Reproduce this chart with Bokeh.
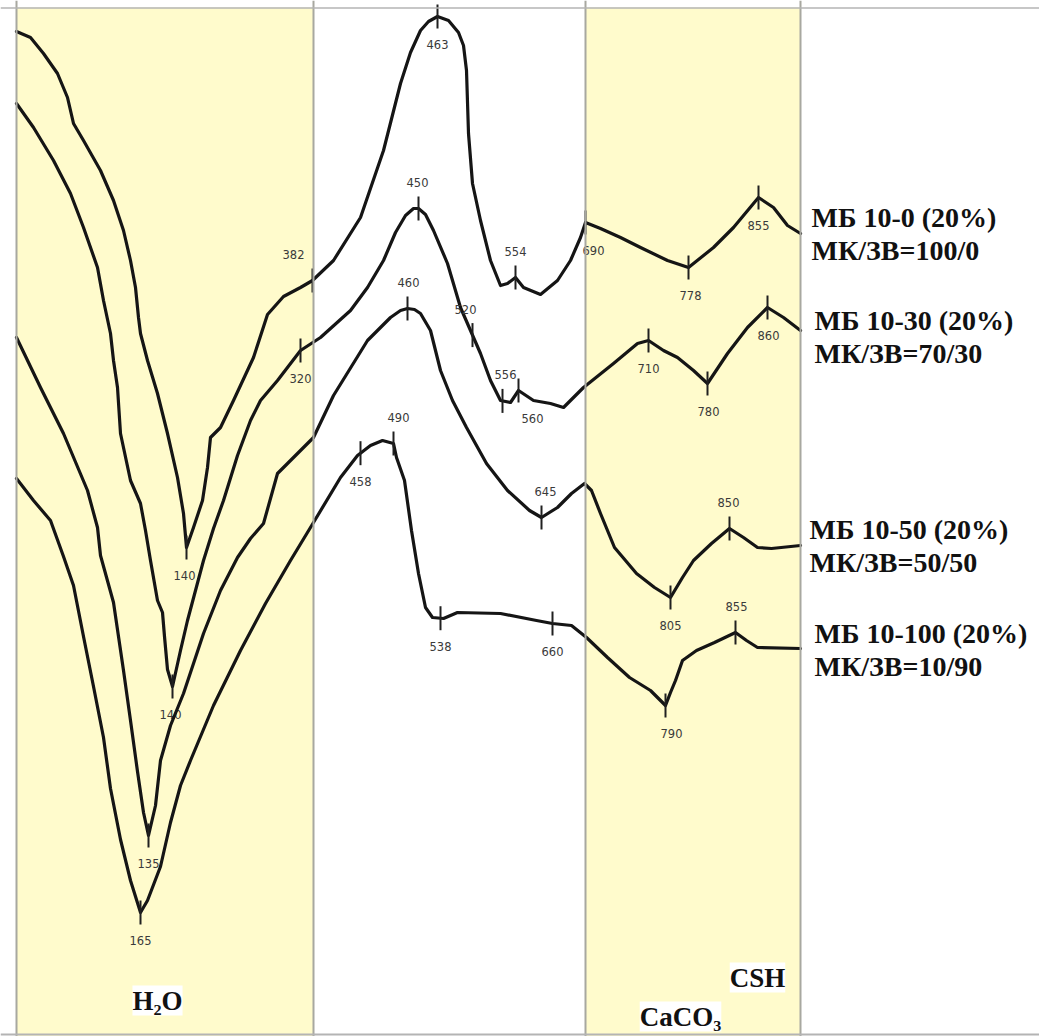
import numpy as np
from bokeh.plotting import figure
from bokeh.models import Range1d, Span, Label, ColumnDataSource
from bokeh.core.properties import value
from bokeh.embed import file_html
from bokeh.resources import INLINE

# ---- data (chart units, y grows downward) ----
band_left = [16, 585]
band_right = [313, 800]

c1_x = [16, 30, 43, 57, 67, 73, 83, 100, 113, 123, 130, 135, 138, 140, 147, 157, 167,
        177, 183, 186, 193, 202, 207, 210, 220, 233, 253, 267, 283, 300, 312, 333, 360,
        383, 400, 410, 420, 428, 437, 448, 458, 463, 466, 468, 472, 480, 490, 500, 507,
        515, 523, 540, 557, 570, 580, 585, 600, 620, 640, 667, 688, 713, 733, 758, 773,
        787, 800]
c1_y = [31, 37, 53, 73, 97, 123, 140, 170, 200, 230, 260, 287, 317, 333, 360, 393, 433,
        477, 513, 547, 527, 500, 467, 437, 427, 400, 357, 314, 296, 287, 280, 260, 217,
        150, 83, 52, 30, 21, 16, 20, 32, 45, 70, 133, 183, 220, 260, 285, 283,
        277, 287, 294, 280, 260, 237, 222, 228, 237, 247, 260, 267, 247, 227, 197, 207,
        225, 233]

c2_x = [16, 33, 53, 70, 83, 97, 103, 110, 113, 117, 120, 130, 140, 145, 150, 157, 162,
        164, 167, 172, 180, 187, 195, 203, 213, 223, 237, 250, 260, 277, 300, 320, 350,
        367, 383, 395, 405, 413, 418, 425, 433, 447, 460, 470, 480, 490, 500, 510, 518,
        533, 550, 563, 583, 613, 637, 648, 663, 677, 693, 707, 727, 747, 767, 783, 800]
c2_y = [103, 127, 160, 193, 227, 267, 300, 333, 360, 387, 433, 480, 503, 530, 560, 600, 612,
        636, 669, 686, 650, 620, 590, 560, 528, 500, 455, 420, 400, 380, 350, 337, 310,
        287, 260, 232, 215, 208, 208, 214, 230, 263, 307, 330, 353, 380, 400, 402, 390,
        400, 403, 407, 387, 363, 343, 340, 350, 357, 370, 383, 353, 327, 307, 317, 330]

c3_x = [16, 40, 63, 87, 97, 100, 113, 123, 130, 137, 143, 148, 155, 160, 170, 183, 203,
        220, 237, 250, 263, 277, 290, 313, 333, 367, 390, 400, 407, 414, 420, 430, 440,
        452, 466, 486, 507, 529, 541, 557, 571, 584, 591, 600, 614, 636, 654, 670, 682,
        693, 711, 729, 743, 757, 771, 800]
c3_y = [337, 387, 433, 490, 527, 555, 602, 670, 720, 771, 812, 835, 805, 760, 725, 693, 633,
        590, 557, 538, 523, 473, 460, 437, 395, 340, 317, 310, 308, 309, 313, 330, 370,
        400, 427, 463, 490, 510, 517, 507, 493, 483, 490, 513, 547, 573, 587, 597, 577,
        560, 543, 528, 537, 547, 548, 545]

c4_x = [16, 33, 50, 63, 73, 83, 93, 103, 110, 120, 130, 140, 147, 160, 170, 180, 190,
        213, 240, 265, 290, 313, 340, 357, 370, 382, 393, 396, 404, 411, 418, 425, 432,
        443, 457, 500, 536, 552, 571, 586, 607, 629, 650, 665, 670, 675, 682, 696, 714,
        735, 746, 757, 800]
c4_y = [478, 500, 520, 556, 585, 636, 686, 737, 788, 839, 880, 912, 900, 866, 822, 785, 760,
        705, 650, 603, 560, 522, 477, 455, 445, 440, 443, 457, 480, 530, 573, 607, 617,
        618, 612, 613, 620, 623, 625, 637, 657, 677, 690, 705, 692, 680, 660, 650, 642,
        632, 640, 647, 648]

# peak temperatures (°C) marked on each curve, where they sit, label side
p1_t = ["463", "382", "554", "690", "778", "855", "140"]
p1_x = [437, 312, 515, 585, 688, 758, 186]
p1_lx = [437, 293, 515, 593, 690, 758, 184]
p1_side = ["below", "above", "above", "below", "below", "below", "below"]

p2_t = ["450", "320", "520", "556", "560", "710", "780", "860", "140"]
p2_x = [418, 300, 472, 502, 518, 648, 707, 767, 172]
p2_lx = [417, 300, 465, 505, 532, 648, 708, 768, 170]
p2_side = ["above", "below", "above", "above", "below", "below", "below", "below", "below"]

p3_t = ["460", "645", "805", "850", "135"]
p3_x = [407, 541, 670, 729, 148]
p3_lx = [408, 545, 670, 728, 148]
p3_side = ["above", "above", "below", "above", "below"]

p4_t = ["490", "458", "538", "660", "790", "855", "165"]
p4_x = [393, 360, 440, 552, 665, 735, 140]
p4_lx = [398, 360, 440, 552, 671, 736, 140]
p4_side = ["above", "below", "below", "below", "below", "above", "below"]

series_names = ["МБ 10-0 (20%)", "МБ 10-30 (20%)", "МБ 10-50 (20%)", "МБ 10-100 (20%)"]
series_ratio = ["МК/ЗВ=100/0", "МК/ЗВ=70/30", "МК/ЗВ=50/50", "МК/ЗВ=10/90"]
name_x = [811, 814, 809, 814]
name_y = [217, 320, 529, 633]

region_text = ["H₂O", "CaCO₃", "CSH"]
region_x = [157, 680, 757]
region_y = [1000, 1016, 977]

# ---- figure ----
p = figure(width=1039, height=1036, output_backend="svg", toolbar_location=None,
           x_range=Range1d(0, 1039), y_range=Range1d(1036, 0),
           x_axis_location=None, y_axis_location=None, min_border=0,
           background_fill_color="white", border_fill_color="white")
p.outline_line_color = None
p.xgrid.visible = False
p.ygrid.visible = False

# shaded regions
p.quad(left=band_left, right=band_right, top=[7, 7], bottom=[1036, 1036],
       fill_color="#FFFBCC", line_color=None)
for xv in band_left + band_right:
    p.add_layout(Span(location=xv, dimension="height", line_color="#A8A8A0", line_width=2))
p.add_layout(Span(location=7.5, dimension="width", line_color="#B4B4B4", line_width=1.5))
p.add_layout(Span(location=1034, dimension="width", line_color="#B4B4B4", line_width=2))

curves = [(c1_x, c1_y, p1_t, p1_x, p1_lx, p1_side),
          (c2_x, c2_y, p2_t, p2_x, p2_lx, p2_side),
          (c3_x, c3_y, p3_t, p3_x, p3_lx, p3_side),
          (c4_x, c4_y, p4_t, p4_x, p4_lx, p4_side)]

for cx, cy, pt, px, plx, side in curves:
    p.line(cx, cy, line_color="#151515", line_width=3.2, line_join="round", line_cap="round")
    ty = np.interp(px, cx, cy)
    p.segment(x0=px, y0=ty - 12, x1=px, y1=ty + 12, line_color="#202020", line_width=2)
    ly = [t - 26 if s == "above" else t + 28 for t, s in zip(ty, side)]
    src = ColumnDataSource(dict(x=plx, y=ly, t=pt))
    p.text(x="x", y="y", text="t", source=src, text_font=value("DejaVu Sans"),
           text_font_size="11.5px", text_color="#3a3a3a", text_align="center",
           text_baseline="middle")

# series labels on the right
lab = ColumnDataSource(dict(x=name_x + name_x,
                            y=name_y + [v + 33 for v in name_y],
                            t=series_names + series_ratio))
p.text(x="x", y="y", text="t", source=lab, text_font=value("Liberation Serif"),
       text_font_style="bold", text_font_size="28px", text_color="#111111",
       text_align="left", text_baseline="middle")

# region labels with white boxes
for t, xv, yv in zip(region_text, region_x, region_y):
    p.add_layout(Label(x=xv, y=yv, text=t, text_font="Liberation Serif",
                       text_font_style="bold", text_font_size="27px",
                       text_color="#111111", text_align="center",
                       text_baseline="middle", background_fill_color="white"))

open("out.html", "w").write(file_html(p, INLINE))
